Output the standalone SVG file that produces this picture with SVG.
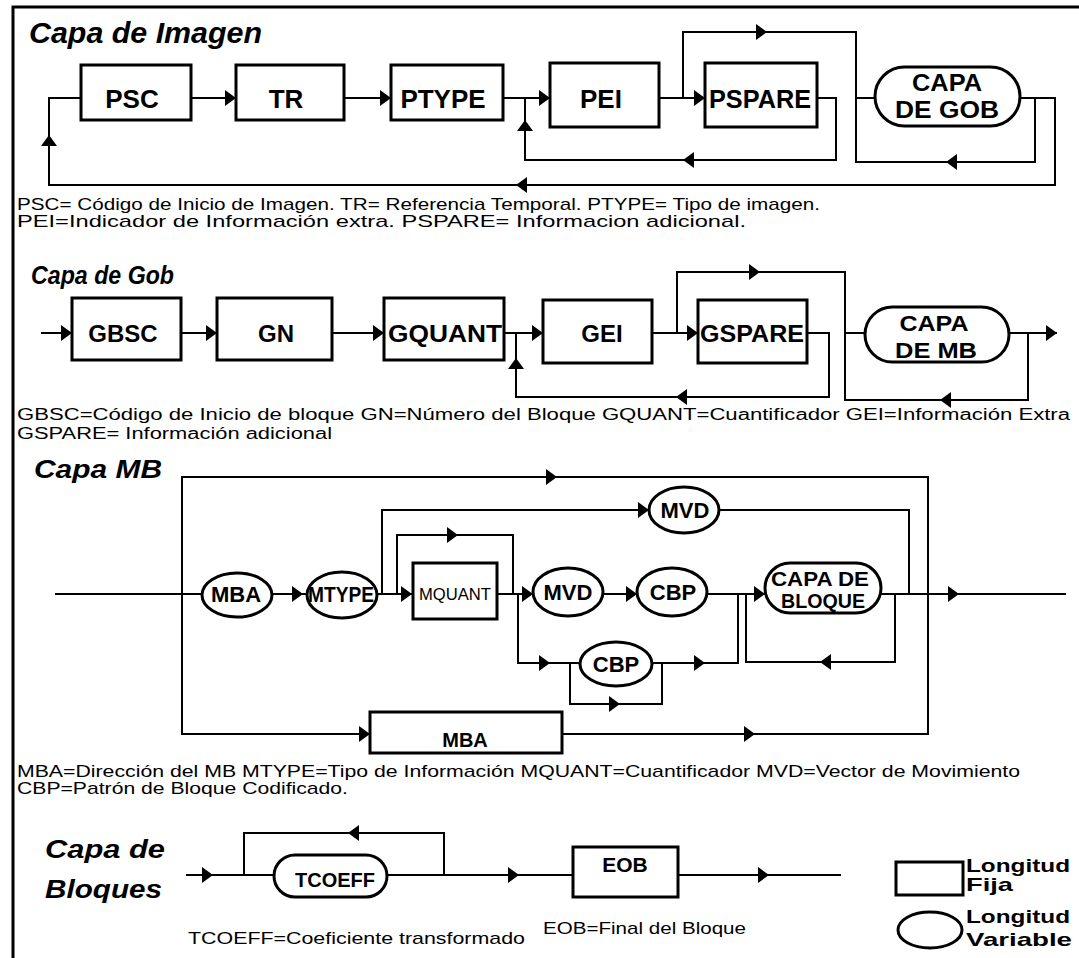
<svg xmlns="http://www.w3.org/2000/svg" xmlns:xlink="http://www.w3.org/1999/xlink" width="1079" height="958" viewBox="0 0 1079 958">
<style>
.frame{fill:none;stroke:#000;stroke-width:3}
.ln{fill:none;stroke:#000;stroke-width:2}
.box{fill:#fff;stroke:#000;stroke-width:3}
.lbl{font-family:"Liberation Sans",Arial,sans-serif;font-weight:bold;text-anchor:middle;fill:#000}
.ttl{font-family:"Liberation Sans",Arial,sans-serif;font-weight:bold;font-style:italic;fill:#000}
.cap{font-family:"Liberation Sans",Arial,sans-serif;font-size:17px;fill:#000}
.leg{font-family:"Liberation Sans",Arial,sans-serif;font-weight:bold;font-size:19px;fill:#000}
</style>
<defs>
<path id="ah" d="M0,0 L-11,-8 L-11,8 Z" fill="#000"/>
</defs>
<rect width="1079" height="958" fill="#fff"/>
<path class="frame" d="M1079,7 H13 V958"/>

<g id="titles">
<text class="ttl" x="29" y="43" font-size="29" textLength="233" lengthAdjust="spacingAndGlyphs">Capa de Imagen</text>
<text class="ttl" x="31" y="284" font-size="26" textLength="143" lengthAdjust="spacingAndGlyphs">Capa de Gob</text>
<text class="ttl" x="34" y="478" font-size="25" textLength="128" lengthAdjust="spacingAndGlyphs">Capa MB</text>
<text class="ttl" x="45" y="858" font-size="25" textLength="120" lengthAdjust="spacingAndGlyphs">Capa de</text>
<text class="ttl" x="45" y="898" font-size="25" textLength="117" lengthAdjust="spacingAndGlyphs">Bloques</text>
</g>

<g id="connectors">
<!-- Capa de Imagen -->
<path class="ln" d="M81,98 H49 V185 H1055 V98 H1020"/>
<path class="ln" d="M191,98 H236 M344,98 H391 M503,98 H550 M659,98 H705"/>
<path class="ln" d="M817,98 H836 V160 H525 V98"/>
<path class="ln" d="M683,98 V32 H856 V162 H1035 V98 M856,98 H875"/>
<!-- Capa de Gob -->
<path class="ln" d="M41,333 H72 M181,333 H217 M332,333 H384 M504,333 H543 M652,333 H698"/>
<path class="ln" d="M807,333 H829 V397 H516 V333"/>
<path class="ln" d="M677,333 V272 H845 V400 H1028 V333 M845,333 H865 M1009,333 H1057"/>
<!-- Capa MB -->
<path class="ln" d="M55,594 H202 M272,594 H307 M377,594 H413 M497,594 H533 M603,594 H637 M707,594 H765 M881,594 H1066"/>
<path class="ln" d="M370,734 H182 V477 H928 V734 H562"/>
<path class="ln" d="M382,594 V510 H649 M719,510 H909 V594"/>
<path class="ln" d="M397,594 V535 H513 V594"/>
<path class="ln" d="M518,594 V663 H580 M570,663 V704 H662 V663 M652,663 H738 V594"/>
<path class="ln" d="M895,594 V662 H746 V594"/>
<!-- Capa de Bloques -->
<path class="ln" d="M186,875 H274 M244,875 V833 H444 V875 M387,875 H573 M678,875 H841"/>
<!-- arrowheads -->
<use href="#ah" transform="translate(49,135) rotate(-90)"/>
<use href="#ah" transform="translate(516,185) rotate(180)"/>
<use href="#ah" transform="translate(236,98)"/>
<use href="#ah" transform="translate(391,98)"/>
<use href="#ah" transform="translate(550,98)"/>
<use href="#ah" transform="translate(705,98)"/>
<use href="#ah" transform="translate(525,120) rotate(-90)"/>
<use href="#ah" transform="translate(683,160) rotate(180)"/>
<use href="#ah" transform="translate(767,32)"/>
<use href="#ah" transform="translate(946,162) rotate(180)"/>
<use href="#ah" transform="translate(72,333)"/>
<use href="#ah" transform="translate(217,333)"/>
<use href="#ah" transform="translate(384,333)"/>
<use href="#ah" transform="translate(543,333)"/>
<use href="#ah" transform="translate(698,333)"/>
<use href="#ah" transform="translate(516,358) rotate(-90)"/>
<use href="#ah" transform="translate(676,397) rotate(180)"/>
<use href="#ah" transform="translate(760,272)"/>
<use href="#ah" transform="translate(940,400) rotate(180)"/>
<use href="#ah" transform="translate(1057,333)"/>
<use href="#ah" transform="translate(557,477)"/>
<use href="#ah" transform="translate(303,594)"/>
<use href="#ah" transform="translate(412,594)"/>
<use href="#ah" transform="translate(458,535)"/>
<use href="#ah" transform="translate(649,510)"/>
<use href="#ah" transform="translate(533,594)"/>
<use href="#ah" transform="translate(637,594)"/>
<use href="#ah" transform="translate(765,594)"/>
<use href="#ah" transform="translate(550,663)"/>
<use href="#ah" transform="translate(620,704)"/>
<use href="#ah" transform="translate(705,663)"/>
<use href="#ah" transform="translate(820,662) rotate(180)"/>
<use href="#ah" transform="translate(959,594)"/>
<use href="#ah" transform="translate(370,734)"/>
<use href="#ah" transform="translate(755,734)"/>
<use href="#ah" transform="translate(213,875)"/>
<use href="#ah" transform="translate(348,833) rotate(180)"/>
<use href="#ah" transform="translate(519,875)"/>
<use href="#ah" transform="translate(769,875)"/>
</g>

<!-- Capa de Imagen nodes -->
<g id="psc"><rect class="box" x="81" y="65" width="110" height="55"/><text class="lbl" x="132" y="108" font-size="26">PSC</text></g>
<g id="tr"><rect class="box" x="236" y="65" width="108" height="55"/><text class="lbl" x="286" y="108" font-size="26">TR</text></g>
<g id="ptype"><rect class="box" x="391" y="65" width="112" height="55"/><text class="lbl" x="443" y="108" font-size="26">PTYPE</text></g>
<g id="pei"><rect class="box" x="550" y="63" width="109" height="64"/><text class="lbl" x="601" y="108" font-size="26">PEI</text></g>
<g id="pspare"><rect class="box" x="705" y="63" width="112" height="64"/><text class="lbl" x="760" y="108" font-size="25" textLength="102" lengthAdjust="spacingAndGlyphs">PSPARE</text></g>
<g id="capa-gob"><rect class="box" x="875" y="67" width="145" height="59" rx="29.5"/><text class="lbl" x="947" y="91" font-size="23" textLength="70" lengthAdjust="spacingAndGlyphs">CAPA</text><text class="lbl" x="947" y="118" font-size="23" textLength="104" lengthAdjust="spacingAndGlyphs">DE GOB</text></g>

<!-- Capa de Gob nodes -->
<g id="gbsc"><rect class="box" x="72" y="298" width="109" height="62"/><text class="lbl" x="123" y="342" font-size="24">GBSC</text></g>
<g id="gn"><rect class="box" x="217" y="298" width="115" height="62"/><text class="lbl" x="276" y="342" font-size="24">GN</text></g>
<g id="gquant"><rect class="box" x="384" y="298" width="120" height="62"/><text class="lbl" x="445" y="342" font-size="24" textLength="114" lengthAdjust="spacingAndGlyphs">GQUANT</text></g>
<g id="gei"><rect class="box" x="543" y="300" width="109" height="63"/><text class="lbl" x="602" y="342" font-size="24">GEI</text></g>
<g id="gspare"><rect class="box" x="698" y="300" width="109" height="63"/><text class="lbl" x="752" y="342" font-size="24" textLength="104" lengthAdjust="spacingAndGlyphs">GSPARE</text></g>
<g id="capa-mb"><rect class="box" x="865" y="307" width="144" height="55" rx="27.5"/><text class="lbl" x="934" y="331" font-size="22" textLength="69" lengthAdjust="spacingAndGlyphs">CAPA</text><text class="lbl" x="936" y="358" font-size="22" textLength="82" lengthAdjust="spacingAndGlyphs">DE MB</text></g>

<!-- Capa MB nodes -->
<g id="mba"><ellipse class="box" cx="237" cy="595" rx="35" ry="22"/><text class="lbl" x="236" y="602" font-size="22">MBA</text></g>
<g id="mtype"><ellipse class="box" cx="342" cy="595" rx="35" ry="23"/><text class="lbl" x="341" y="602" font-size="22" textLength="66" lengthAdjust="spacingAndGlyphs">MTYPE</text></g>
<g id="mquant"><rect class="box" x="413" y="563" width="84" height="56"/><text class="lbl" x="455" y="600" font-size="16" style="font-weight:normal" textLength="72" lengthAdjust="spacingAndGlyphs">MQUANT</text></g>
<g id="mvd-top"><ellipse class="box" cx="684" cy="510" rx="35" ry="23"/><text class="lbl" x="685" y="518" font-size="22">MVD</text></g>
<g id="mvd"><ellipse class="box" cx="568" cy="592" rx="35" ry="24"/><text class="lbl" x="568" y="600" font-size="22">MVD</text></g>
<g id="cbp"><ellipse class="box" cx="672" cy="592" rx="35" ry="24"/><text class="lbl" x="673" y="600" font-size="22">CBP</text></g>
<g id="cbp-bottom"><ellipse class="box" cx="616" cy="664" rx="36" ry="22"/><text class="lbl" x="616" y="672" font-size="22">CBP</text></g>
<g id="capa-bloque"><rect class="box" x="765" y="563" width="116" height="50" rx="25"/><text class="lbl" x="820" y="586" font-size="20" textLength="98" lengthAdjust="spacingAndGlyphs">CAPA DE</text><text class="lbl" x="823" y="608" font-size="20" textLength="84" lengthAdjust="spacingAndGlyphs">BLOQUE</text></g>
<g id="mba-box"><rect class="box" x="370" y="712" width="192" height="41"/><text class="lbl" x="465" y="747" font-size="20">MBA</text></g>

<!-- Capa de Bloques nodes -->
<g id="tcoeff"><rect class="box" x="274" y="855" width="113" height="42" rx="21"/><text class="lbl" x="335" y="887" font-size="20">TCOEFF</text></g>
<g id="eob"><rect class="box" x="573" y="847" width="105" height="50"/><text class="lbl" x="625" y="872" font-size="21">EOB</text></g>

<!-- Legend -->
<g id="legend-fija"><rect class="box" x="896" y="862" width="67" height="33"/><text class="leg" x="966" y="872" textLength="104" lengthAdjust="spacingAndGlyphs">Longitud</text><text class="leg" x="966" y="891" textLength="47" lengthAdjust="spacingAndGlyphs">Fija</text></g>
<g id="legend-variable"><ellipse class="box" cx="930" cy="930" rx="32" ry="18"/><text class="leg" x="966" y="923" textLength="104" lengthAdjust="spacingAndGlyphs">Longitud</text><text class="leg" x="966" y="946" textLength="106" lengthAdjust="spacingAndGlyphs">Variable</text></g>

<g id="captions">
<text class="cap" x="17" y="210" textLength="803" lengthAdjust="spacingAndGlyphs">PSC= Código de Inicio de Imagen. TR= Referencia Temporal. PTYPE= Tipo de imagen.</text>
<text class="cap" x="17" y="227" textLength="729" lengthAdjust="spacingAndGlyphs">PEI=Indicador de Información extra. PSPARE= Informacion adicional.</text>
<text class="cap" x="17" y="420" font-size="16" style="font-size:16px" textLength="1053" lengthAdjust="spacingAndGlyphs">GBSC=Código de Inicio de bloque GN=Número del Bloque GQUANT=Cuantificador  GEI=Información Extra</text>
<text class="cap" x="17" y="439" font-size="16" style="font-size:16px" textLength="315" lengthAdjust="spacingAndGlyphs">GSPARE= Información adicional</text>
<text class="cap" x="17" y="777" textLength="1003" lengthAdjust="spacingAndGlyphs">MBA=Dirección del MB  MTYPE=Tipo de Información  MQUANT=Cuantificador  MVD=Vector de Movimiento</text>
<text class="cap" x="17" y="794" textLength="331" lengthAdjust="spacingAndGlyphs">CBP=Patrón de Bloque Codificado.</text>
<text class="cap" x="188" y="944" textLength="337" lengthAdjust="spacingAndGlyphs">TCOEFF=Coeficiente transformado</text>
<text class="cap" x="543" y="934" textLength="203" lengthAdjust="spacingAndGlyphs">EOB=Final del Bloque</text>
</g>
</svg>
